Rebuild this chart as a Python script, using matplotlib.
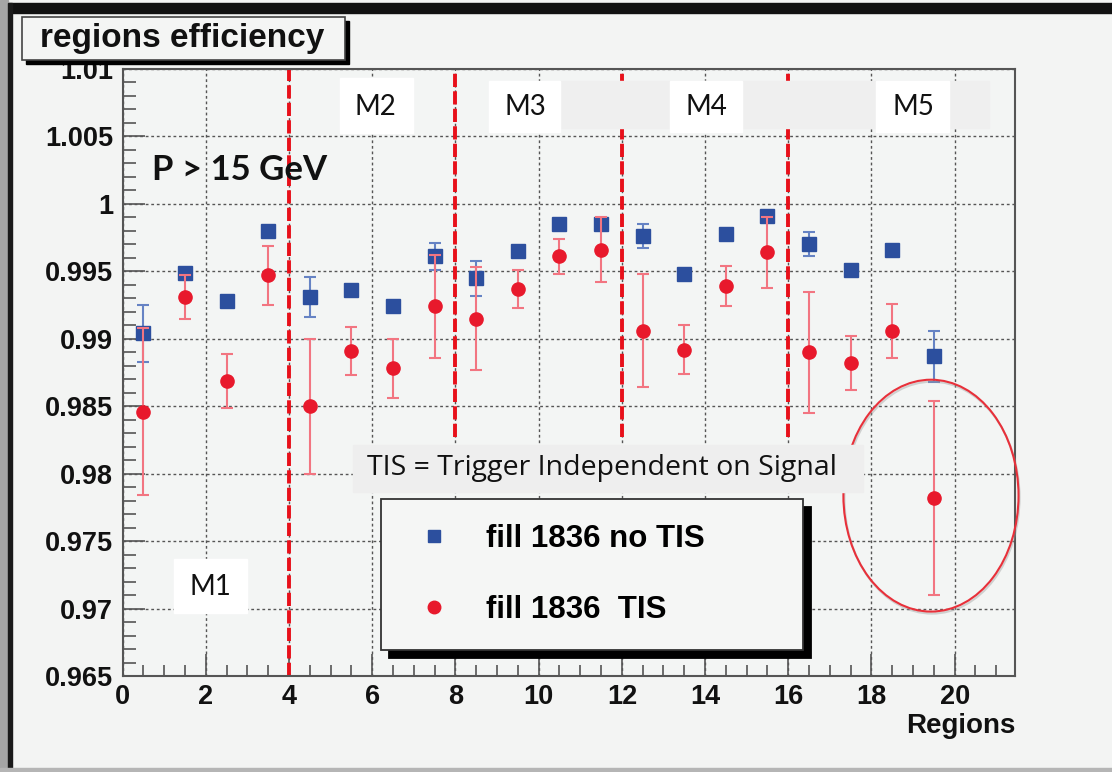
import numpy as np
import matplotlib
matplotlib.use('Agg')
import matplotlib.pyplot as plt
from matplotlib.patches import Rectangle, Ellipse
from matplotlib.ticker import MultipleLocator, FuncFormatter
from matplotlib.lines import Line2D

# region efficiencies (bin centres 0.5 ... 19.5)
regions = [0.5, 1.5, 2.5, 3.5, 4.5, 5.5, 6.5, 7.5, 8.5, 9.5,
           10.5, 11.5, 12.5, 13.5, 14.5, 15.5, 16.5, 17.5, 18.5, 19.5]
eff_notis = [0.9904, 0.9949, 0.9928, 0.9980, 0.9931, 0.9936, 0.9924, 0.9961, 0.9945, 0.9965,
             0.9985, 0.9985, 0.9976, 0.9948, 0.9978, 0.9991, 0.9970, 0.9951, 0.9966, 0.9887]
err_notis = [0.0021, 0.0003, 0.0003, 0.0002, 0.0015, 0.0003, 0.0003, 0.0010, 0.0013, 0.0002,
             0.0002, 0.0003, 0.0009, 0.0003, 0.0002, 0.0002, 0.0009, 0.0003, 0.0002, 0.0019]
eff_tis = [0.9846, 0.9931, 0.9869, 0.9947, 0.9850, 0.9891, 0.9878, 0.9924, 0.9915, 0.9937,
           0.9961, 0.9966, 0.9906, 0.9892, 0.9939, 0.9964, 0.9890, 0.9882, 0.9906, 0.9782]
err_tis = [0.0062, 0.0016, 0.0020, 0.0022, 0.0050, 0.0018, 0.0022, 0.0038, 0.0038, 0.0014,
           0.0013, 0.0024, 0.0042, 0.0018, 0.0015, 0.0026, 0.0045, 0.0020, 0.0020, 0.0072]

station_edges = [4, 8, 12, 16]
edge_bottoms = [0.965, 0.9827, 0.9827, 0.9827]
stations = ['M1', 'M2', 'M3', 'M4', 'M5']

W, H = 1112, 772
fig = plt.figure(figsize=(W / 100, H / 100), dpi=100, facecolor='#f3f4f3')


def fx(px):
    return px / W


def fy(py):
    return 1 - py / H


def box(x0, y0, x1, y1, **kw):
    r = Rectangle((fx(x0), fy(y1)), (x1 - x0) / W, (y1 - y0) / H,
                  transform=fig.transFigure, **kw)
    fig.add_artist(r)
    return r


ax = fig.add_axes([fx(122.7), fy(676), fx(1015) - fx(122.7), fy(69) - fy(676)])
ax.set_facecolor('#f3f5f4')
ax.set_xlim(0, 21.45)
ax.set_ylim(0.965, 1.01)

ROOT = 'Liberation Sans'
grid_kw = dict(color='#555555', lw=1.0, linestyle=(0, (2, 2)))
ax.xaxis.set_major_locator(MultipleLocator(2))
ax.xaxis.set_minor_locator(MultipleLocator(0.5))
ax.yaxis.set_major_locator(MultipleLocator(0.005))
ax.yaxis.set_minor_locator(MultipleLocator(0.001))
ax.yaxis.set_major_formatter(FuncFormatter(lambda v, p: '%g' % round(v, 4)))
ax.grid(True, which='major', **grid_kw)
ax.set_axisbelow(True)
ax.tick_params(which='both', direction='in', colors='#555555', width=1.2,
               top=False, right=False)
ax.tick_params(axis='y', which='major', length=16, pad=7)
ax.tick_params(axis='y', which='minor', length=9)
ax.tick_params(axis='x', which='major', length=16, pad=6)
ax.tick_params(axis='x', which='minor', length=8)
for lab in ax.get_xticklabels() + ax.get_yticklabels():
    lab.set_fontfamily(ROOT)
    lab.set_fontweight('bold')
    lab.set_fontsize(19.5)
    lab.set_color('#111111')
for s in ax.spines.values():
    s.set_color('#555555')
    s.set_linewidth(1.5)
ax.set_xlabel('Regions', loc='right', fontfamily=ROOT, fontweight='bold',
              fontsize=20, labelpad=2, color='#111111')

# station boundaries
ax.vlines(station_edges, edge_bottoms, 1.01, colors='#e8101a', lw=2.8,
          linestyles=(0, (3.4, 1.1)), zorder=2)

# data
ax.errorbar(regions, eff_notis, yerr=err_notis, fmt='s', color='#2c4f9e', ms=9.5,
            ecolor='#6683c4', elinewidth=1.5, capsize=4, capthick=1.5, zorder=3,
            label='fill 1836 no TIS')
ax.errorbar(regions, eff_tis, yerr=err_tis, fmt='o', color='#e8192c', ms=9.5,
            ecolor='#f27581', elinewidth=1.5, capsize=4, capthick=1.5, zorder=4,
            label='fill 1836  TIS')

# circle around the last point
ax.add_patch(Ellipse((19.43, 0.97837), 4.21, 0.01719, fill=False, ec='#999999',
                     lw=1.5, alpha=0.4, clip_on=False, zorder=5,
                     transform=ax.transData + matplotlib.transforms.ScaledTranslation(1 / 100, -2 / 100, fig.dpi_scale_trans)))
ax.add_patch(Ellipse((19.43, 0.97837), 4.21, 0.01719, fill=False, ec='#e8303a',
                     lw=1.5, clip_on=False, zorder=6))

# legend
handles = [Line2D([], [], marker='s', ls='none', color='#2c4f9e', ms=9),
           Line2D([], [], marker='o', ls='none', color='#e8192c', ms=9)]
leg = ax.legend(handles, ['fill 1836 no TIS', 'fill 1836  TIS'],
                loc='upper left', mode='expand', borderaxespad=0,
                bbox_to_anchor=(fx(381), fy(651), (803 - 381) / W, (651 - 499) / H),
                bbox_transform=fig.transFigure,
                prop=dict(family=ROOT, weight='bold', size=22.5),
                frameon=True, fancybox=False, framealpha=1,
                edgecolor='#333333', facecolor='#f5f6f5',
                borderpad=0.8, labelspacing=1.3, handlelength=1.8,
                handletextpad=0.75,
                shadow=dict(ox=6, oy=-6, facecolor='black', edgecolor='black', alpha=1))
leg.get_frame().set_linewidth(1.3)
leg.set_zorder(10)

# outer screenshot frame
box(0, 3, W, 13, color='#111111', zorder=20)
box(0, 0, 8, H, color='#a5a5a5', zorder=20)
box(8, 3, 12, H, color='#1a1a1a', zorder=20)
box(0, 768, W, H, color='#b5b5b5', zorder=20)

# title box
box(26, 21, 349, 64, color='black', zorder=11)
box(22, 17, 345, 60, fc='#f4f5f4', ec='#444444', lw=1.2, zorder=12)
fig.text(fx(40), fy(38), 'regions efficiency', fontfamily=ROOT, fontweight='bold',
         fontsize=24, ha='left', va='center', color='#111111', zorder=13)

# station labels
box(560, 81, 989, 128, color='#efefef', zorder=11)
label_boxes = [(174, 559, 247, 613), (340, 78, 413, 133), (489, 81, 560, 132),
               (670, 81, 742, 132), (876, 81, 949, 132)]
label_pos = [(210, 587), (375, 107), (525, 107), (706, 107), (913, 107)]
for name, b, p in zip(stations, label_boxes, label_pos):
    box(*b, color='white', zorder=12)
    fig.text(fx(p[0]), fy(p[1]), name, fontfamily='Lato', fontsize=20,
             ha='center', va='center', color='#111111', zorder=13)

fig.text(fx(152), fy(170), 'P > 15 GeV', fontfamily='Lato', fontweight='bold',
         fontsize=25, ha='left', va='center', color='#111111', zorder=13)

box(353, 445, 863, 492, color='#eeeeee', zorder=11)
fig.text(fx(367), fy(468), 'TIS = Trigger Independent on Signal', fontfamily='Open Sans',
         fontsize=20.5, ha='left', va='center', color='#111111', zorder=13)

fig.savefig('out.png', dpi=100, facecolor=fig.get_facecolor())
